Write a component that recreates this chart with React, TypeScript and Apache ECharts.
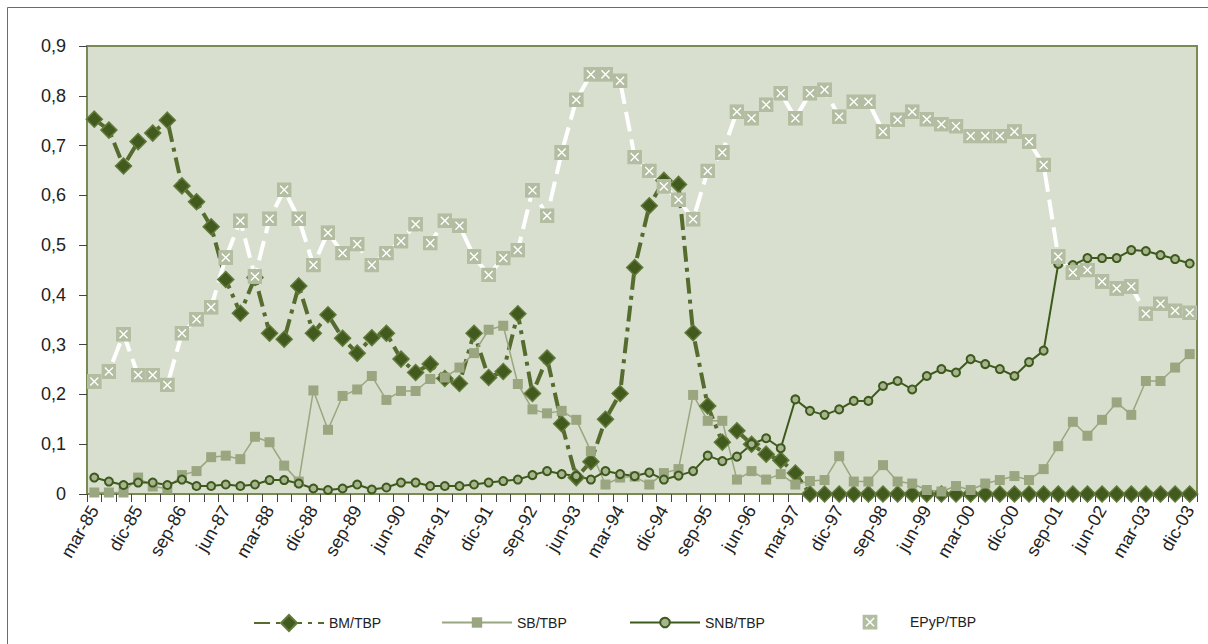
import React, { useEffect, useRef } from "react";
import * as echarts from "echarts";

const months = ["mar", "jun", "sep", "dic"];
const years = ["85", "86", "87", "88", "89", "90", "91", "92", "93", "94", "95", "96", "97", "98", "99", "00", "01", "02", "03"];
const categories: string[] = [];
years.forEach((y) => months.forEach((m) => categories.push(`${m}-${y}`)));

const yTicks = [0, 0.1, 0.2, 0.3, 0.4, 0.5, 0.6, 0.7, 0.8, 0.9];

const bm = [
  0.753, 0.731, 0.659, 0.708, 0.725, 0.751, 0.619, 0.587, 0.537, 0.431,
  0.363, 0.435, 0.323, 0.311, 0.418, 0.323, 0.36, 0.313, 0.283, 0.314,
  0.323, 0.271, 0.244, 0.261, 0.232, 0.222, 0.323, 0.234, 0.246, 0.362,
  0.202, 0.273, 0.141, 0.033, 0.065, 0.15, 0.202, 0.455, 0.579, 0.63,
  0.622, 0.324, 0.177, 0.104, 0.127, 0.1, 0.08, 0.068, 0.042, 0,
  0, 0, 0, 0, 0, 0, 0, 0, 0, 0,
  0, 0, 0, 0, 0, 0, 0, 0, 0, 0,
  0, 0, 0, 0, 0, 0,
];

const sb = [
  0.003, 0.003, 0.003, 0.033, 0.015, 0.011, 0.038, 0.046, 0.074, 0.077,
  0.07, 0.115, 0.104, 0.057, 0.025, 0.208, 0.129, 0.197, 0.21, 0.237,
  0.189, 0.207, 0.207, 0.231, 0.234, 0.254, 0.283, 0.33, 0.338, 0.221,
  0.17, 0.162, 0.167, 0.149, 0.086, 0.019, 0.033, 0.035, 0.019, 0.042,
  0.05, 0.199, 0.147, 0.147, 0.029, 0.046, 0.029, 0.04, 0.019, 0.026,
  0.028, 0.076, 0.025, 0.025, 0.058, 0.025, 0.021, 0.008, 0.005, 0.016,
  0.008, 0.021, 0.028, 0.036, 0.028, 0.05, 0.096, 0.145, 0.117, 0.149,
  0.184, 0.159, 0.227, 0.227, 0.254, 0.281,
];

const snb = [
  0.033, 0.025, 0.018, 0.023, 0.023, 0.018, 0.029, 0.016, 0.016, 0.019,
  0.016, 0.019, 0.028, 0.028, 0.021, 0.011, 0.008, 0.011, 0.019, 0.009,
  0.013, 0.023, 0.023, 0.016, 0.016, 0.016, 0.019, 0.023, 0.026, 0.029,
  0.038, 0.046, 0.04, 0.036, 0.029, 0.046, 0.04, 0.036, 0.043, 0.029,
  0.037, 0.046, 0.077, 0.066, 0.075, 0.1, 0.112, 0.092, 0.19, 0.167,
  0.159, 0.17, 0.187, 0.187, 0.217, 0.227, 0.21, 0.237, 0.251, 0.244,
  0.271, 0.261, 0.251, 0.237, 0.265, 0.288, 0.462, 0.46, 0.474, 0.474,
  0.474, 0.49, 0.488, 0.48, 0.472, 0.463,
];

const epyp = [
  0.226, 0.246, 0.321, 0.239, 0.239, 0.219, 0.323, 0.351, 0.375, 0.475,
  0.549, 0.437, 0.553, 0.611, 0.553, 0.46, 0.525, 0.484, 0.502, 0.46,
  0.484, 0.508, 0.542, 0.504, 0.549, 0.539, 0.477, 0.44, 0.474, 0.49,
  0.61, 0.559, 0.686, 0.792, 0.843, 0.843, 0.83, 0.677, 0.649, 0.618,
  0.591, 0.552, 0.649, 0.686, 0.768, 0.755, 0.782, 0.805, 0.755, 0.805,
  0.812, 0.758, 0.788, 0.788, 0.728, 0.752, 0.768, 0.753, 0.743, 0.739,
  0.719, 0.719, 0.719, 0.728, 0.708, 0.661, 0.477, 0.445, 0.45, 0.427,
  0.413, 0.417, 0.362, 0.382, 0.368, 0.364,
];

const seriesNames = ["BM/TBP", "SB/TBP", "SNB/TBP", "EPyP/TBP"];
const legendLefts = [253, 441, 629, 834];
const legendHeights = [20, 13, 12, 19];

const xSvg =
  "<svg xmlns='http://www.w3.org/2000/svg' width='28' height='28' viewBox='0 0 28 28'>" +
  "<rect x='0' y='0' width='28' height='28' fill='#b3bda1'/>" +
  "<path d='M6.5 6.5L21.5 21.5M21.5 6.5L6.5 21.5' stroke='#ffffff' stroke-width='2.6' fill='none'/></svg>";
const xSymbol = "image://data:image/svg+xml;charset=utf-8," + encodeURIComponent(xSvg);

export default function App() {
  const ref = useRef<HTMLDivElement>(null);
  useEffect(() => {
    if (!ref.current) return;
    const chart = echarts.init(ref.current, null, { renderer: "svg" });
    const font = "Arial, 'Liberation Sans', Helvetica, sans-serif";
    chart.setOption({
      animation: false,
      backgroundColor: "#ffffff",
      textStyle: { fontFamily: font },
      graphic: [
        {
          type: "rect",
          shape: { x: 7.5, y: 7.5, width: 1400, height: 1000 },
          style: { fill: "none", stroke: "#6b6b6b", lineWidth: 1 },
          silent: true,
          z: -10,
        },
      ],
      grid: {
        left: 87,
        right: 11,
        top: 46,
        bottom: 150,
        show: true,
        backgroundColor: "#d9dfcf",
        borderColor: "#7a8a55",
        borderWidth: 2,
      },
      legend: seriesNames.map((n, i) => ({
        left: legendLefts[i],
        top: 624 - Math.max(legendHeights[i], 17) / 2,
        padding: 0,
        itemWidth: 70,
        itemHeight: legendHeights[i],
        textStyle: { fontSize: 14, color: "#222", fontFamily: font },
        data: [n],
      })),
      xAxis: {
        type: "category",
        data: categories,
        boundaryGap: true,
        axisLine: { show: true, lineStyle: { color: "#7a8a55", width: 2 } },
        axisTick: { show: true, interval: 0, length: 8, lineStyle: { color: "#444", width: 1 } },
        axisLabel: {
          interval: 2,
          rotate: 60,
          fontSize: 18,
          color: "#222",
          margin: 13,
          fontFamily: font,
        },
        splitLine: { show: false },
      },
      yAxis: {
        type: "value",
        min: 0,
        max: 0.9,
        interval: 0.1,
        axisLine: { show: true, lineStyle: { color: "#7a8a55", width: 2 } },
        axisTick: { show: true, length: 8, lineStyle: { color: "#444", width: 1 } },
        axisLabel: {
          fontSize: 18,
          color: "#222",
          margin: 21,
          fontFamily: font,
          formatter: (v: number) => {
            const t = yTicks.find((k) => Math.abs(k - v) < 1e-9);
            const val = t === undefined ? v : t;
            return val === 0 ? "0" : val.toFixed(1).replace(".", ",");
          },
        },
        splitLine: { show: false },
      },
      series: [
        {
          name: seriesNames[0],
          type: "line",
          data: bm,
          symbol: "diamond",
          symbolSize: 16,
          showAllSymbol: true,
          clip: false,
          lineStyle: { color: "#566b2e", width: 4, type: [16, 6, 4, 6] },
          itemStyle: { color: "#435a1e", borderColor: "#607a3a", borderWidth: 1.5 },
        },
        {
          name: seriesNames[1],
          type: "line",
          data: sb,
          symbol: "rect",
          symbolSize: 10,
          showAllSymbol: true,
          clip: false,
          lineStyle: { color: "#9aa67f", width: 1.5 },
          itemStyle: { color: "#9aa67f", borderColor: "#9aa67f", borderWidth: 0 },
        },
        {
          name: seriesNames[2],
          type: "line",
          data: snb,
          symbol: "circle",
          symbolSize: 8,
          showAllSymbol: true,
          clip: false,
          lineStyle: { color: "#3d5a1c", width: 2 },
          itemStyle: { color: "#a8b48f", borderColor: "#3d5a1c", borderWidth: 2 },
        },
        {
          name: seriesNames[3],
          type: "line",
          data: epyp,
          symbol: xSymbol,
          symbolSize: 15,
          showAllSymbol: true,
          clip: false,
          lineStyle: { color: "#ffffff", width: 4, type: [20, 8] },
          itemStyle: { color: "#b3bda1" },
        },
      ],
    });
    return () => chart.dispose();
  }, []);
  return (
    <div
      ref={ref}
      style={{ position: "fixed", left: 0, top: 0, width: 1208, height: 644, background: "#fff" }}
    />
  );
}
